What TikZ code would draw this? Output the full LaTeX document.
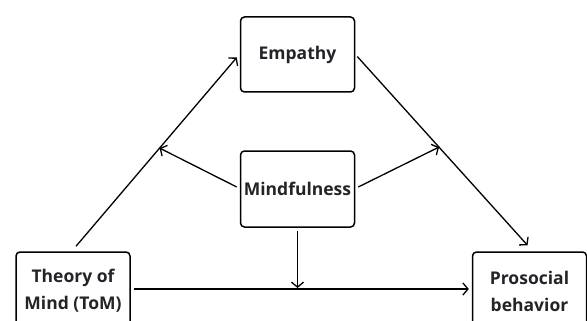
\documentclass[tikz,border=0pt]{standalone}
\usepackage{fontspec}
\setmainfont{Open Sans}
\usepackage{tikz}
\usetikzlibrary{arrows.meta}
\pgfdeclarelayer{edgelayer}
\pgfdeclarelayer{nodelayer}
\pgfsetlayers{edgelayer,nodelayer,main}
\definecolor{boxtext}{HTML}{222428}
\tikzstyle{box}=[draw=black, line width=1.5pt, rounded corners=4pt, fill=white, text=boxtext, align=center, inner sep=0pt, minimum width=114pt, font=\fontsize{17.5}{27}\selectfont\bfseries]
\tikzstyle{edge}=[draw=black, line width=1.3pt, -{Straight Barb[length=5pt,width=12pt]}]
\tikzstyle{plainedge}=[draw=black, line width=1.3pt]

\begin{document}
\begin{tikzpicture}[x=1pt, y=-1pt]
						\useasboundingbox (0, 0) rectangle (587, 321);
						\clip (0, 0) rectangle (587, 321);
						\begin{pgfonlayer}{nodelayer}
							\node [style=box, minimum height=75pt] (1) at (297.5, 54.5) {Empathy};
							\node [style=box, minimum height=76pt] (2) at (297.5, 189) {Mindfulness};
							\node [style=box, minimum height=78pt] (3) at (73, 291) {Theory of\\Mind (ToM)};
							\node [style=box, minimum height=78pt] (4) at (529.5, 291) {Prosocial\\behavior};
						\end{pgfonlayer}
						\begin{pgfonlayer}{edgelayer}
							\draw [style=edge] ([xshift=3pt, yshift=5pt]3.north) to coordinate[pos=0.52] (a) ([xshift=-3pt, yshift=-3pt]1.west);
							\draw [style=edge] ([xshift=2pt, yshift=-2pt]1.east) to coordinate[pos=0.48] (b) ([xshift=-2pt, yshift=6pt]4.north);
							\draw [style=edge] ([xshift=3pt, yshift=2pt]3.east) coordinate (c) to ([xshift=-3pt, yshift=2pt]4.west);
							\draw [style=edge] ([xshift=-3pt, yshift=2pt]2.west) to (a);
							\draw [style=edge] ([xshift=3pt, yshift=2pt]2.east) to (b);
							\draw [style=edge, shorten >=1pt] ([yshift=-3pt]2.south) to (2.south |- c);
						\end{pgfonlayer}
					\end{tikzpicture}
\end{document}
